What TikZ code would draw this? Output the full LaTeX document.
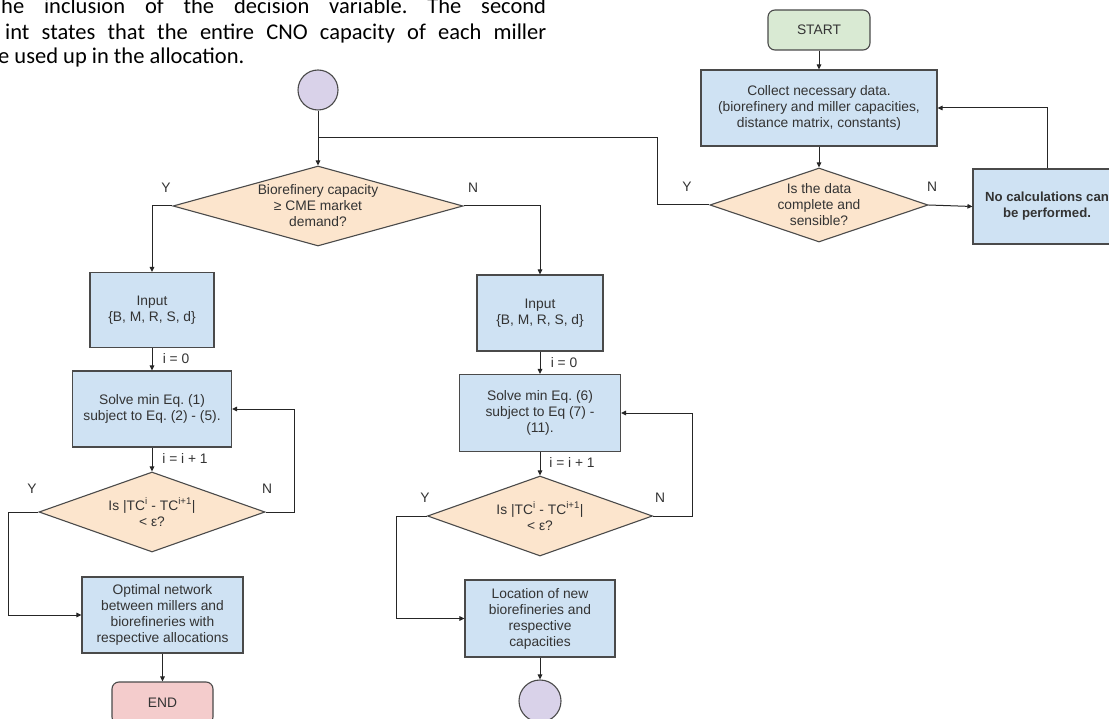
\documentclass[tikz,border=0pt]{standalone}
\usepackage{fontspec}
\setmainfont{Liberation Sans}
\newfontfamily\bodyfont{Carlito}
\usetikzlibrary{shapes.geometric,arrows.meta}
\definecolor{bluef}{HTML}{CFE2F3}
\definecolor{orangef}{HTML}{FCE5CD}
\definecolor{greenf}{HTML}{D9EAD3}
\definecolor{redf}{HTML}{F4CCCC}
\definecolor{purplef}{HTML}{D9D2E9}
\definecolor{edge}{HTML}{4A4A4A}
\definecolor{linec}{HTML}{262626}
\definecolor{txtc}{HTML}{333333}
\tikzset{
  base/.style={draw=edge, line width=1.1pt, inner sep=0pt, align=center, text=txtc,
    font=\fontsize{13.8}{16}\selectfont},
  procbox/.style={base, rectangle, fill=bluef},
  termbox/.style={base, rectangle, rounded corners=7pt},
  decision/.style={base, diamond, fill=orangef},
  connector/.style={base, circle, fill=purplef},
  dtext/.style={inner sep=0pt, align=center, text=txtc, font=\fontsize{13.8}{16}\selectfont},
  lbl/.style={inner sep=0pt, text=txtc, font=\fontsize{13.8}{16}\selectfont},
  arr/.style={draw=linec, line width=1pt, -{Triangle[length=5pt,width=4.5pt]}},
  ln/.style={draw=linec, line width=1pt},
  para/.style={inner sep=0pt, anchor=base west, text=black, font=\bodyfont\fontsize{22.5}{27}\selectfont}
}
\frenchspacing
\begin{document}
\begin{tikzpicture}[x=1pt,y=-1pt]
\useasboundingbox (0,0) rectangle (1109,719);
\clip (0,0) rectangle (1109,719);
\fill[white] (0,0) rectangle (1109,719);

% paragraph fragment
\node[para] (p1) at (1,14) {\makebox[545pt][s]{he inclusion of the decision variable. The second}};
\node[para] (p2) at (5,40) {\makebox[541pt][s]{int states that the entire CNO capacity of each miller}};
\node[para] (p3) at (-2,64) {e used up in the allocation.};

% right part
\node[termbox, fill=greenf, minimum width=102pt, minimum height=40pt] (start) at (819,30) {START};
\node[procbox, minimum width=236pt, minimum height=76pt] (collect) at (819,108)
  {Collect necessary data.\\(biorefinery and miller capacities,\\distance matrix, constants)};
\node[decision, minimum width=218pt, minimum height=74pt] (data) at (819,205) {};
\node[dtext] at (data) {Is the data\\complete and\\sensible?};
\node[procbox, minimum width=148pt, minimum height=75pt, font=\fontsize{13.2}{16}\selectfont] (nocalc) at (1047,206.5)
  {\bfseries No calculations can\\\bfseries be performed.};

% top connector circle and junction
\node[connector, minimum size=40pt] (c1) at (318,90) {};
\coordinate (junc) at (318,138);

% biorefinery decision
\node[decision, minimum width=290pt, minimum height=80pt] (bio) at (318,206) {};
\node[dtext] at (bio) {Biorefinery capacity\\≥ CME market\\demand?};

% left column
\node[procbox, minimum width=124pt, minimum height=75pt] (inL) at (152,310) {Input\\\{B, M, R, S, d\}};
\node[procbox, minimum width=159pt, minimum height=76pt] (solL) at (152,409) {Solve min Eq. (1)\\subject to Eq. (2) - (5).};
\node[decision, minimum width=226pt, minimum height=80pt] (dL) at (152,512) {};
\node[dtext] at (dL) {Is |TC\textsuperscript{i} - TC\textsuperscript{i+1}|\\< ε?};
\node[procbox, minimum width=161pt, minimum height=76pt] (optL) at (162.5,615)
  {Optimal network\\between millers and\\biorefineries with\\respective allocations};
\node[termbox, fill=redf, minimum width=101pt, minimum height=42pt] (endL) at (162.5,703) {END};

% right column
\node[procbox, minimum width=126pt, minimum height=76pt] (inR) at (540,313) {Input\\\{B, M, R, S, d\}};
\node[procbox, minimum width=161pt, minimum height=77pt] (solR) at (540,413) {Solve min Eq. (6)\\subject to Eq (7) -\\(11).};
\node[decision, minimum width=225pt, minimum height=80pt] (dR) at (540,516) {};
\node[dtext] at (dR) {Is |TC\textsuperscript{i} - TC\textsuperscript{i+1}|\\< ε?};
\node[procbox, minimum width=150pt, minimum height=77pt] (locR) at (540,618.5)
  {Location of new\\biorefineries and\\respective\\capacities};
\node[connector, minimum size=42pt] (c2) at (540,701) {};

% connectors right part
\draw[arr] (start) -- (collect);
\draw[arr] (collect) -- (data);
\draw[arr] (data.east) -- (nocalc.west);
\draw[arr] (nocalc.north) |- (collect.east);
\draw[arr] (data.west) -- ++(-52,0) |- (junc) -- (bio.north);
\draw[ln] (c1.south) -- (junc);

% bio branches
\draw[arr] (bio.west) -| (inL.north);
\draw[arr] (bio.east) -| (inR.north);

% left column connectors
\draw[arr] (inL) -- (solL);
\draw[arr] (solL) -- (dL);
\draw[arr] (dL.east) -- ++(29,0) |- (solL.east);
\draw[arr] (dL.west) -- ++(-30,0) |- (optL.west);
\draw[arr] (optL) -- (endL);

% right column connectors
\draw[arr] (inR) -- (solR);
\draw[arr] (solR) -- (dR);
\draw[arr] (dR.east) -- ++(39,0) |- (solR.east);
\draw[arr] (dR.west) -- ++(-30,0) |- (locR.west);
\draw[arr] (locR) -- (c2);

% labels
\node[lbl] (yData) at (687,187) {Y};
\node[lbl] (nData) at (932,187) {N};
\node[lbl] (yBio) at (166,188) {Y};
\node[lbl] (nBio) at (473,188) {N};
\node[lbl] (yL) at (32,489) {Y};
\node[lbl] (nL) at (267,489) {N};
\node[lbl] (yR) at (425,498) {Y};
\node[lbl] (nR) at (660,498) {N};
\node[lbl] (i0L) at (176,359) {i = 0};
\node[lbl] (i1L) at (185,458) {i = i + 1};
\node[lbl] (i0R) at (564,363) {i = 0};
\node[lbl] (i1R) at (572,462) {i = i + 1};
\end{tikzpicture}
\end{document}
